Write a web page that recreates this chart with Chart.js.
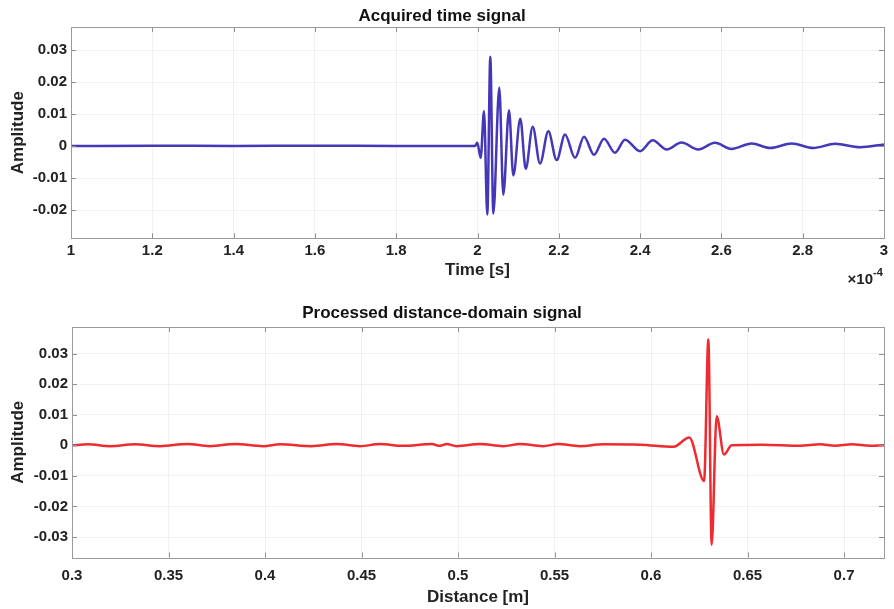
<!DOCTYPE html>
<html>
<head>
<meta charset="utf-8">
<script src="https://cdn.jsdelivr.net/npm/chart.js@4.4.0/dist/chart.umd.min.js"></script>
<style>
html,body{margin:0;padding:0;background:#fff;}
#wrap{position:relative;width:894px;height:609px;overflow:hidden;}
canvas{position:absolute;left:0;}
#c1{top:0;}
#c2{top:295px;}
</style>
</head>
<body>
<div id="wrap">
<canvas id="c1" width="894" height="295"></canvas>
<canvas id="c2" width="894" height="314"></canvas>
</div>
<script>
// ---------- Data: acquired time signal (time in units of 1e-4 s) ----------
const timeX = [1.0, 1.2, 1.4, 1.6, 1.8, 1.95, 1.9938, 1.9996, 2.0078, 2.016, 2.0241, 2.0315, 2.0389,
  2.0536, 2.0635, 2.0775, 2.0881, 2.1053, 2.1186, 2.1358, 2.1538, 2.1742, 2.1948, 2.2153, 2.2399,
  2.262, 2.2866, 2.3112, 2.3383, 2.3629, 2.3998, 2.431, 2.4654, 2.502, 2.543, 2.584, 2.625, 2.6745,
  2.7196, 2.773, 2.826, 2.8795, 2.941, 3.0];
const timeAmp = [0, 0.0001, 0, 0.0001, 0, 0, 0, 0.0010, -0.0037, 0.0109, -0.0214, 0.0279, -0.0211,
  0.0182, -0.0152, 0.0112, -0.0092, 0.0085, -0.0071, 0.0060, -0.0055, 0.0046, -0.0044, 0.0036, -0.0037,
  0.0029, -0.0027, 0.0023, -0.0021, 0.0020, -0.0016, 0.0018, -0.0011, 0.0011, -0.0011, 0.0010, -0.0009, 0.0008,
  -0.0006, 0.0008, -0.0006, 0.0007, -0.0004, 0.0005];

// ---------- Data: processed distance-domain signal (distance in m) ----------
const distX = [0.3, 0.3083, 0.3197, 0.3326, 0.3456, 0.3596, 0.3715, 0.3845, 0.399, 0.4078, 0.4242,
  0.4371, 0.4492, 0.4596, 0.4715, 0.4864, 0.4907, 0.4941, 0.4993, 0.5114, 0.5233, 0.5321, 0.544,
  0.5518, 0.5632, 0.5751, 0.5943, 0.6116, 0.6198, 0.6275, 0.6297, 0.6314, 0.634, 0.6378, 0.6418,
  0.6575, 0.6772, 0.6876, 0.6953, 0.704, 0.7135, 0.7207];
const distAmp = [0, 0.0003, -0.0003, 0.0003, -0.0003, 0.0004, -0.0003, 0.0004, -0.0003, 0.0003, -0.0003,
  0.0004, -0.0003, 0.0004, -0.0002, 0.0004, -0.0002, 0.0004, -0.0003, 0.0004, -0.0003, 0.0004, -0.0003,
  0.0004, -0.0003, 0.0003, 0.0002, -0.0005, 0.0025, -0.0117, 0.0347, -0.0325, 0.0095, -0.0030, 0,
  0.0002, -0.0002, 0.0003, -0.0002, 0.0003, -0.0002, 0];

// ---------- Ticks ----------
const timeTicks = [1, 1.2, 1.4, 1.6, 1.8, 2, 2.2, 2.4, 2.6, 2.8, 3];
const timeTickLabels = ['1', '1.2', '1.4', '1.6', '1.8', '2', '2.2', '2.4', '2.6', '2.8', '3'];
const ampTicksTop = [-0.02, -0.01, 0, 0.01, 0.02, 0.03];
const ampTickLabelsTop = ['-0.02', '-0.01', '0', '0.01', '0.02', '0.03'];
const distTicks = [0.3, 0.35, 0.4, 0.45, 0.5, 0.55, 0.6, 0.65, 0.7];
const distTickLabels = ['0.3', '0.35', '0.4', '0.45', '0.5', '0.55', '0.6', '0.65', '0.7'];
const ampTicksBottom = [-0.03, -0.02, -0.01, 0, 0.01, 0.02, 0.03];
const ampTickLabelsBottom = ['-0.03', '-0.02', '-0.01', '0', '0.01', '0.02', '0.03'];

const FONT = '"Liberation Sans", Arial, Helvetica, sans-serif';
const TEXT = '#222222';

const boxPlugin = {
  id: 'matlabBox',
  afterDatasetsDraw(chart) {
    const {ctx, chartArea: a, scales} = chart;
    ctx.save();
    ctx.strokeStyle = '#8f8f8f';
    ctx.lineWidth = 1;
    const tl = 5;
    ctx.beginPath();
    scales.x.ticks.forEach(t => {
      const p = Math.round(scales.x.getPixelForValue(t.value)) + 0.5;
      if (p <= a.left + 1 || p >= a.right - 1) return;
      ctx.moveTo(p, a.bottom); ctx.lineTo(p, a.bottom - tl);
      ctx.moveTo(p, a.top); ctx.lineTo(p, a.top + tl);
    });
    scales.y.ticks.forEach(t => {
      const p = Math.round(scales.y.getPixelForValue(t.value)) + 0.5;
      if (p <= a.top + 1 || p >= a.bottom - 1) return;
      ctx.moveTo(a.left, p); ctx.lineTo(a.left + tl, p);
      ctx.moveTo(a.right, p); ctx.lineTo(a.right - tl, p);
    });
    ctx.stroke();
    ctx.strokeStyle = '#9a9a9a';
    ctx.strokeRect(Math.round(a.left) + 0.5, Math.round(a.top) + 0.5,
      Math.round(a.right - a.left), Math.round(a.bottom - a.top));
    ctx.restore();
  }
};

const exponentPlugin = {
  id: 'exponentLabel',
  afterDraw(chart) {
    if (!chart.options.plugins.exponentLabel || !chart.options.plugins.exponentLabel.show) return;
    const {ctx, chartArea: a} = chart;
    ctx.save();
    ctx.fillStyle = TEXT;
    ctx.textBaseline = 'middle';
    ctx.textAlign = 'right';
    ctx.font = 'bold 15px ' + FONT;
    ctx.fillText('\u00d710', a.right - 11, a.bottom + 42);
    ctx.textAlign = 'left';
    ctx.font = 'bold 11px ' + FONT;
    ctx.fillText('-4', a.right - 11, a.bottom + 35);
    ctx.restore();
  }
};

function makeChart(canvasId, cfg) {
  const data = cfg.xs.map((x, i) => ({x: x, y: cfg.ys[i]}));
  return new Chart(document.getElementById(canvasId), {
    type: 'line',
    data: {
      datasets: [{
        data: data,
        borderColor: cfg.color,
        borderWidth: 2.5,
        pointRadius: 0,
        fill: false,
        cubicInterpolationMode: 'monotone',
        clip: 0
      }]
    },
    options: {
      responsive: false,
      animation: false,
      devicePixelRatio: 1,
      events: [],
      layout: {padding: {left: 0, right: 10, top: 0, bottom: 0}},
      plugins: {
        legend: {display: false},
        tooltip: {enabled: false},
        title: {
          display: true,
          text: cfg.title,
          color: '#111',
          font: {family: FONT, size: 17, weight: 'bold', lineHeight: 1.2},
          padding: cfg.titlePad
        },
        exponentLabel: {show: !!cfg.exponent}
      },
      scales: {
        x: {
          type: 'linear',
          min: cfg.xMin,
          max: cfg.xMax,
          afterBuildTicks: s => { s.ticks = cfg.xTicks.map(v => ({value: v})); },
          afterFit: s => { s.height = cfg.xAxisHeight; },
          ticks: {
            autoSkip: false,
            maxRotation: 0,
            padding: cfg.xTickPad,
            color: TEXT,
            font: {family: FONT, size: 15, weight: 'bold', lineHeight: 1.2},
            callback: (v, i) => cfg.xTickLabels[i]
          },
          grid: {color: 'rgba(0,0,0,0.05)', drawTicks: false, lineWidth: 1},
          border: {display: false},
          title: {
            display: true,
            text: cfg.xTitle,
            color: TEXT,
            font: {family: FONT, size: 17, weight: 'bold', lineHeight: 1.2},
            padding: {top: 0, bottom: cfg.xTitlePadBottom}
          }
        },
        y: {
          type: 'linear',
          min: cfg.yMin,
          max: cfg.yMax,
          afterBuildTicks: s => { s.ticks = cfg.yTicks.map(v => ({value: v})); },
          afterFit: s => { s.width = cfg.yAxisWidth; },
          ticks: {
            autoSkip: false,
            padding: 4,
            color: TEXT,
            font: {family: FONT, size: 15, weight: 'bold', lineHeight: 1.2},
            callback: (v, i) => cfg.yTickLabels[i]
          },
          grid: {color: 'rgba(0,0,0,0.05)', drawTicks: false, lineWidth: 1},
          border: {display: false},
          title: {
            display: true,
            text: 'Amplitude',
            color: TEXT,
            font: {family: FONT, size: 17, weight: 'bold', lineHeight: 1.2},
            padding: {top: 8, bottom: 0}
          }
        }
      }
    },
    plugins: [boxPlugin, exponentPlugin]
  });
}

makeChart('c1', {
  xs: timeX, ys: timeAmp, color: '#4438b8',
  title: 'Acquired time signal', titlePad: {top: 5.8, bottom: 0.8},
  xMin: 1, xMax: 3, xTicks: timeTicks, xTickLabels: timeTickLabels,
  yMin: -0.02884, yMax: 0.0372, yTicks: ampTicksTop, yTickLabels: ampTickLabelsTop,
  xAxisHeight: 56.7, yAxisWidth: 71, xTickPad: 4, xTitle: 'Time [s]', xTitlePadBottom: 14.8,
  exponent: true
});

makeChart('c2', {
  xs: distX, ys: distAmp, color: '#ee2b30',
  title: 'Processed distance-domain signal', titlePad: {top: 7.8, bottom: 3.8},
  xMin: 0.3, xMax: 0.7207, xTicks: distTicks, xTickLabels: distTickLabels,
  yMin: -0.0367, yMax: 0.03867, yTicks: ampTicksBottom, yTickLabels: ampTickLabelsBottom,
  xAxisHeight: 51.5, yAxisWidth: 72, xTickPad: 9, xTitle: 'Distance [m]', xTitlePadBottom: 1.8,
  exponent: false
});
</script>
</body>
</html>
